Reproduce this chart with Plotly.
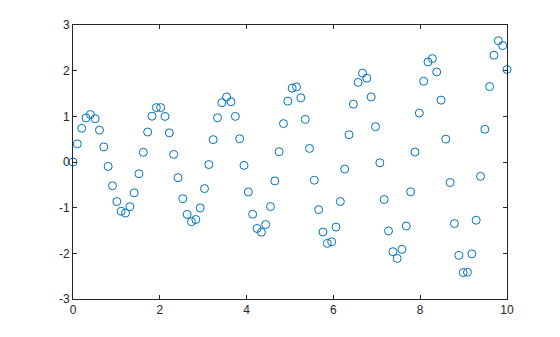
import plotly.graph_objects as go

x_vals = [0.00, 0.10, 0.20, 0.30, 0.40, 0.51, 0.61, 0.71, 0.81, 0.91,
          1.01, 1.11, 1.21, 1.31, 1.41, 1.52, 1.62, 1.72, 1.82, 1.92,
          2.02, 2.12, 2.22, 2.32, 2.42, 2.53, 2.63, 2.73, 2.83, 2.93,
          3.03, 3.13, 3.23, 3.33, 3.43, 3.54, 3.64, 3.74, 3.84, 3.94,
          4.04, 4.14, 4.24, 4.34, 4.44, 4.55, 4.65, 4.75, 4.85, 4.95,
          5.05, 5.15, 5.25, 5.35, 5.45, 5.56, 5.66, 5.76, 5.86, 5.96,
          6.06, 6.16, 6.26, 6.36, 6.46, 6.57, 6.67, 6.77, 6.87, 6.97,
          7.07, 7.17, 7.27, 7.37, 7.47, 7.58, 7.68, 7.78, 7.88, 7.98,
          8.08, 8.18, 8.28, 8.38, 8.48, 8.59, 8.69, 8.79, 8.89, 8.99,
          9.09, 9.19, 9.29, 9.39, 9.49, 9.60, 9.70, 9.80, 9.90, 10.00]

y_vals = [0.000, 0.397, 0.738, 0.965, 1.040, 0.948, 0.699, 0.331, -0.098, -0.520,
          -0.866, -1.078, -1.118, -0.978, -0.675, -0.257, 0.212, 0.656, 1.002, 1.192,
          1.192, 0.998, 0.638, 0.166, -0.343, -0.805, -1.147, -1.308, -1.260, -1.006,
          -0.583, -0.056, 0.490, 0.968, 1.298, 1.424, 1.320, 0.999, 0.509, -0.074,
          -0.656, -1.144, -1.456, -1.537, -1.369, -0.975, -0.415, 0.225, 0.841, 1.332,
          1.617, 1.645, 1.405, 0.932, 0.297, -0.399, -1.044, -1.533, -1.782, -1.746,
          -1.425, -0.865, -0.154, 0.598, 1.267, 1.744, 1.946, 1.836, 1.425, 0.773,
          -0.017, -0.821, -1.508, -1.964, -2.111, -1.913, -1.402, -0.653, 0.218, 1.071,
          1.768, 2.191, 2.265, 1.972, 1.354, 0.501, -0.450, -1.348, -2.044, -2.422,
          -2.414, -2.012, -1.275, -0.315, 0.716, 1.651, 2.338, 2.656, 2.549, 2.025]

x_ticks = [0, 2, 4, 6, 8, 10]
y_ticks = [-3, -2, -1, 0, 1, 2, 3]

axis_color = "#262626"

fig = go.Figure()
fig.add_trace(go.Scatter(
    x=x_vals, y=y_vals, mode="markers",
    marker=dict(symbol="circle-open", size=8, color="#0072BD",
                line=dict(width=1, color="#0072BD")),
    showlegend=False, cliponaxis=False,
))

axis_common = dict(
    showgrid=False, zeroline=False, showline=True, linecolor=axis_color,
    linewidth=1, mirror="ticks", ticks="inside", ticklen=4, tickwidth=1,
    tickcolor=axis_color, tickfont=dict(family="Liberation Sans, Arial", size=12, color=axis_color),
)

fig.update_xaxes(range=[0, 10], tickvals=x_ticks, ticktext=[str(v) for v in x_ticks], **axis_common)
fig.update_yaxes(range=[-3, 3], tickvals=y_ticks, ticktext=[str(v) for v in y_ticks], **axis_common)

fig.update_layout(
    width=560, height=337,
    margin=dict(l=73, r=53, t=25, b=38),
    paper_bgcolor="white", plot_bgcolor="white",
)

fig.write_html("out.html")
